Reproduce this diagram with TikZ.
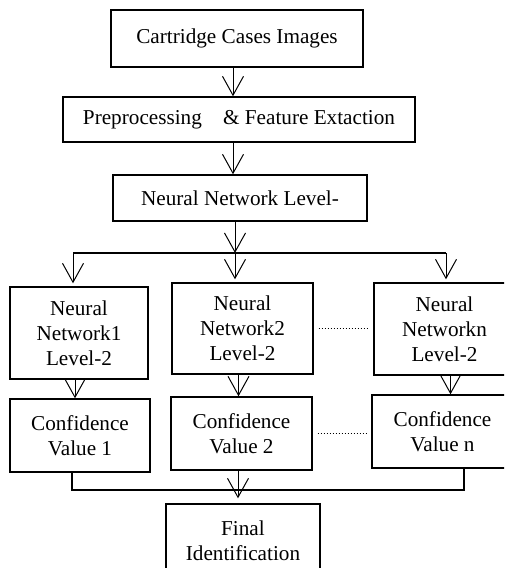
\documentclass[tikz,border=0pt]{standalone}
\usepackage{fontspec}
\setmainfont{Liberation Serif}
\usetikzlibrary{arrows.meta}
\begin{document}
\begin{tikzpicture}
[x=0.5pt,y=-0.5pt,
  boxdecorate/.style 2 args={shape=rectangle,draw,line width=0.7pt,inner sep=0pt,align=center,
    font=\fontsize{10.6}{12.5}\selectfont,minimum width=#1*0.5pt,minimum height=#2*0.5pt},%
  arrowdecorate/.style={-{Straight Barb[length=9.5pt,width=10.5pt]},line width=0.5pt},%
  linedecorate/.style={-,line width=0.6pt},%
  dotdecorate/.style={-,line width=0.5pt,dash pattern=on 0.5pt off 1pt,shorten <=2.5pt,shorten >=2.5pt}]
\clip (0,0) rectangle (504,568);
%% boxes
\foreach \nodename/\x/\y/\w/\h/\txt in {%
  img/237/38.5/252/57/{Cartridge Cases Images},
  pre/239/119.5/352/45/{Preprocessing\quad\& Feature Extaction},
  lvl/240/198/254/46/{Neural Network Level-},
  nna/79/333/138/92/{Neural\\Network1\\Level-2},
  nnb/242.5/328.5/141/91/{Neural\\Network2\\Level-2},
  nnc/444.5/329/141/92/{Neural\\Networkn\\Level-2},
  cva/80/435.5/140/73/{Confidence\\Value 1},
  cvb/241.5/433.5/141/73/{Confidence\\Value 2},
  cvc/442.5/431.5/141/73/{Confidence\\Value n},
  fin/243/541/154/74/{Final\\Identification}} {
  \node (\nodename) at (\x,\y) [boxdecorate={\w}{\h}] {\txt};
}
%% branch points
\coordinate (bl) at (73,253);
\coordinate (bm) at (235,253);
\coordinate (br) at (446,253);
\coordinate (jn) at (238,490);
%% arrows
\draw[arrowdecorate] ([xshift=-2pt]img.south) -- ([xshift=-2pt]img.south |- pre.north);
\draw[arrowdecorate] ([xshift=-3pt]pre.south) -- ([xshift=-3pt]pre.south |- lvl.north);
\draw[arrowdecorate] (lvl.south -| bm) -- (bm);
\draw[linedecorate] (bl) -- (br);
\foreach \startnode/\endnode in {bl/nna, bm/nnb, br/nnc} {
  \draw[arrowdecorate] (\startnode) -- ([yshift=1.5pt]\startnode |- \endnode.north);
}
\draw[arrowdecorate] ([xshift=-2pt]nna.south) -- ([xshift=-2pt]nna.south |- cva.north);
\draw[arrowdecorate] ([xshift=-2pt]nnb.south) -- ([xshift=-2pt]nnb.south |- cvb.north);
\draw[arrowdecorate] ([xshift=3pt]nnc.south) -- ([xshift=3pt]nnc.south |- cvc.north);
%% dotted links
\draw[dotdecorate] (nnb.east) -- (nnb.east -| nnc.west);
\draw[dotdecorate] (cvb.east) -- (cvb.east -| cvc.west);
%% merge into final
\draw[linedecorate] ([xshift=-4pt]cva.south) |- (jn) -| ([xshift=10.75pt]cvc.south);
\draw[arrowdecorate] ([xshift=-1.75pt]cvb.south) -- ([xshift=-1.75pt,yshift=2.5pt]cvb.south |- fin.north);
\end{tikzpicture}
\end{document}
